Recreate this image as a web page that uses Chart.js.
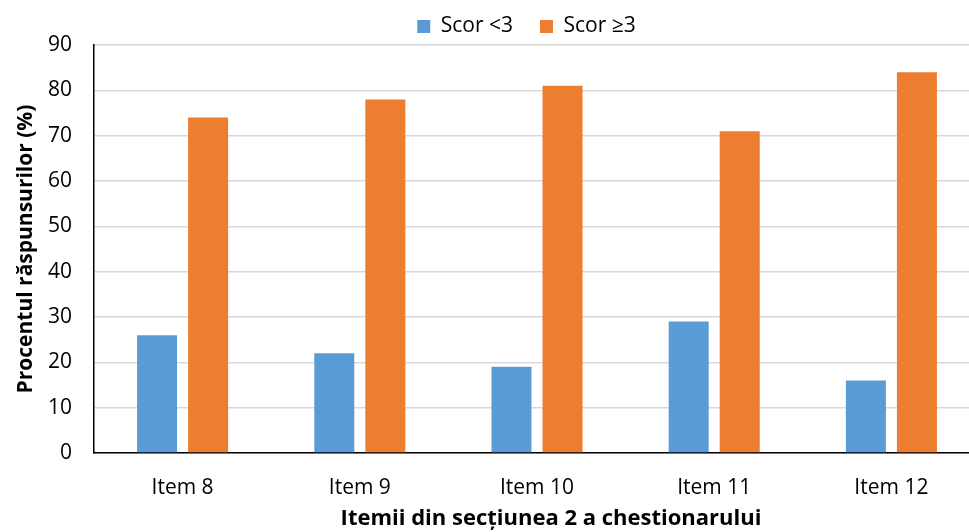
<!DOCTYPE html>
<html>
<head>
<meta charset="utf-8">
<script src="https://cdn.jsdelivr.net/npm/chart.js@4"></script>
<style>
html,body{margin:0;padding:0;background:#fff;overflow:hidden;width:969px;height:532px;}
#wrap{width:980px;height:532px;}
</style>
</head>
<body>
<div id="wrap"><canvas id="c" width="980" height="532"></canvas></div>
<script>
const categories = ["Item 8", "Item 9", "Item 10", "Item 11", "Item 12"];
const seriesNames = ["Scor <3", "Scor \u22653"];
const scorSub3 = [26, 22, 19, 29, 16];
const scorPeste3 = [74, 78, 81, 71, 84];
const yTicks = [0, 10, 20, 30, 40, 50, 60, 70, 80, 90];
const xTitle = "Itemii din sec\u021biunea 2 a chestionarului";
const yTitle = "Procentul r\u0103spunsurilor (%)";

const FONT = "'Open Sans', sans-serif";
Chart.defaults.font.family = FONT;
Chart.defaults.color = '#000';

const legendShift = {
  id: 'legendShift',
  afterLayout(chart) {
    const lg = chart.legend;
    if (!lg) return;
    lg.left += 30; lg.right += 30;
    lg.top -= 11; lg.bottom -= 11;
  }
};

const chart = new Chart(document.getElementById('c'), {
  type: 'bar',
  data: {
    labels: categories,
    datasets: [
      { label: seriesNames[0], data: scorSub3, backgroundColor: '#5B9BD5' },
      { label: seriesNames[1], data: scorPeste3, backgroundColor: '#ED7D31' }
    ]
  },
  plugins: [legendShift],
  options: {
    responsive: false,
    animation: false,
    layout: { padding: { top: 0, left: 13, right: 0, bottom: 0 } },
    datasets: { bar: { categoryPercentage: 0.576, barPercentage: 0.784 } },
    plugins: {
      legend: {
        position: 'top',
        labels: { boxWidth: 13, boxHeight: 13, padding: 27, font: { size: 21, family: FONT }, color: '#000' }
      },
      tooltip: { enabled: false }
    },
    scales: {
      x: {
        grid: { display: false, drawTicks: false },
        border: { display: true, color: '#000', width: 1.5 },
        ticks: { padding: 22, font: { size: 21, family: FONT }, color: '#000' },
        title: { display: true, text: xTitle, font: { size: 22, weight: 'bold', family: FONT }, color: '#000', padding: { top: 3, bottom: 0 } },
        afterFit: s => { s.height = 79; }
      },
      y: {
        min: 0, max: 90,
        afterBuildTicks: s => { s.ticks = yTicks.map(v => ({ value: v })); },
        grid: { color: '#d9d9d9', lineWidth: 1.5, drawTicks: false },
        border: { display: true, color: '#000', width: 1.5 },
        ticks: { padding: 22, font: { size: 21, family: FONT }, color: '#000' },
        title: { display: true, text: yTitle, font: { size: 21, weight: 'bold', family: FONT }, color: '#000', padding: { top: 0, bottom: 4 } },
        afterFit: s => { s.width = 81; }
      }
    }
  }
});
const origFit = chart.legend.fit;
chart.legend.fit = function () { origFit.call(this); this.height = 45; };
const xs = chart.scales.x;
const origDrawTitle = xs.drawTitle;
xs.drawTitle = function () {
  const l = this.left, r = this.right;
  this.left += 14; this.right += 14;
  origDrawTitle.call(this);
  this.left = l; this.right = r;
};
chart.update();
</script>
</body>
</html>
